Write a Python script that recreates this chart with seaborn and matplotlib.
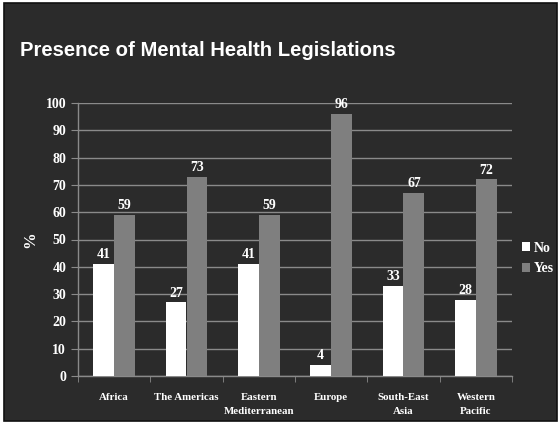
import matplotlib
matplotlib.use("Agg")
import matplotlib.pyplot as plt
import seaborn as sns
import pandas as pd
from matplotlib.patches import Rectangle

regions = ["Africa", "The Americas", "Eastern\nMediterranean", "Europe", "South-East\nAsia", "Western\nPacific"]
no_vals = [41, 27, 41, 4, 33, 28]
yes_vals = [59, 73, 59, 96, 67, 72]
series = ["No", "Yes"]
yticks = list(range(0, 101, 10))

df = pd.DataFrame({
    "region": regions * 2,
    "value": no_vals + yes_vals,
    "answer": ["No"] * len(regions) + ["Yes"] * len(regions),
})

bg = "#2b2b2b"
fig = plt.figure(figsize=(5.6, 4.24), dpi=100, facecolor="white")
fig.patches.append(Rectangle((4/560, 3/424), 553/560, 418/424, transform=fig.transFigure,
                             facecolor=bg, edgecolor="#111111", linewidth=1.2, zorder=-10))
ax = fig.add_axes([78/560, 1-376/424, 434/560, 273/424])
ax.set_facecolor("none")

sns.barplot(data=df, x="region", y="value", hue="answer", order=regions, hue_order=series,
            palette={"No": "#ffffff", "Yes": "#7f7f7f"}, width=0.58, saturation=1,
            edgecolor="none", ax=ax, zorder=3)

serif = "Liberation Serif"
for cont in ax.containers:
    ax.bar_label(cont, labels=[f"{v:.0f}" for v in cont.datavalues], padding=2,
                 color="white", fontsize=10, family=serif, fontweight="bold")

ax.set_ylim(0, 100)
ax.set_yticks(yticks)
ax.yaxis.grid(True, color="#8a8a8a", linewidth=1, zorder=0)
ax.set_axisbelow(True)
for s in ["top", "right"]:
    ax.spines[s].set_visible(False)
for s in ["left", "bottom"]:
    ax.spines[s].set_color("#8a8a8a")
    ax.spines[s].set_linewidth(1)
ax.tick_params(axis="y", colors="#8a8a8a", length=5, labelcolor="white", labelsize=10)
ax.tick_params(axis="x", length=0, labelcolor="white", labelsize=7.8, pad=12)
for lbl in ax.get_yticklabels():
    lbl.set_family(serif); lbl.set_fontweight("bold")
for lbl in ax.get_xticklabels():
    lbl.set_family(serif); lbl.set_fontweight("bold"); lbl.set_linespacing(1.8)
    lbl.set_verticalalignment("top")
ax.set_xticks([i + 0.5 for i in range(-1, len(regions))], minor=True)
ax.tick_params(axis="x", which="minor", length=4, color="#8a8a8a")
ax.set_xlim(-0.5, len(regions) - 0.5)
ax.set_xlabel("")
ax.set_ylabel("%", color="white", fontsize=12, family=serif, fontweight="bold", labelpad=5)

leg = ax.legend(loc="center left", bbox_to_anchor=(1.0, 0.43), frameon=False,
                handlelength=0.6, handleheight=0.6, handletextpad=0.25, labelspacing=0.55,
                borderpad=0.2, borderaxespad=0.5,
                prop={"family": serif, "size": 10, "weight": "bold"})
for t in leg.get_texts():
    t.set_color("white")

fig.text(20/560, 1-50/424, "Presence of Mental Health Legislations", color="white",
         fontsize=14.6, fontweight="bold", family="Liberation Sans", va="center", ha="left")

fig.savefig("out.png", dpi=100, facecolor="white")
